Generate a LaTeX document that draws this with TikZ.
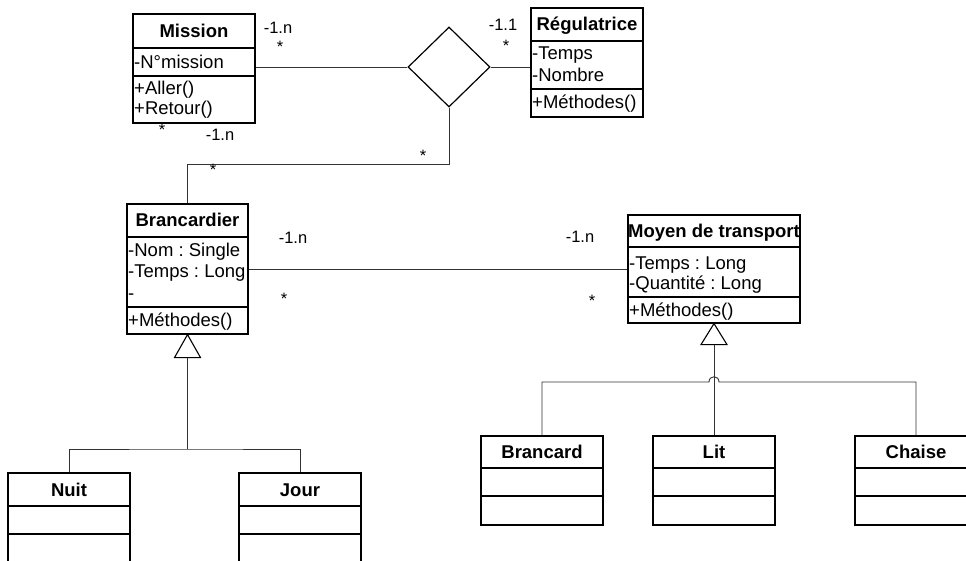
\documentclass[tikz,border=0pt]{standalone}
\usepackage{fontspec}
\setmainfont{Liberation Sans}
\usetikzlibrary{shapes.geometric,fit}
\frenchspacing
\tikzset{
  clsbox/.style={draw=black,line width=1.2pt,inner sep=0pt,fill=white},
  clsline/.style={draw=black,line width=1.2pt},
  clstitle/.style={anchor=base,inner sep=0pt,font=\fontsize{18.5}{22}\selectfont\bfseries},
  attr/.style={anchor=base west,inner sep=0pt,font=\fontsize{18.5}{22}\selectfont},
  mult/.style={anchor=base,inner sep=0pt,font=\fontsize{16.5}{19}\selectfont},
  conn/.style={draw=black!80,line width=0.9pt},
  gentri/.style={draw=black,line width=1.1pt,fill=white},
}
\newcommand\umlcls[8]{%
  \node[clsbox, fit={(#2,#3) (#4,#5)}] (#1) {};
  \draw[clsline] (#2,#6) -- (#4,#6);
  \draw[clsline] (#2,#7) -- (#4,#7);
  \node[clstitle] (#1-t) at ({(#2+#4)/2},{(#3+#6)/2+6.5}) {#8};
}
\begin{document}
\begin{tikzpicture}[x=1pt,y=-1pt]
\useasboundingbox (0,0) rectangle (966,561);
\fill[white] (0,0) rectangle (966,561);
\begin{scope}
\clip (0,0) rectangle (966,561);

% classes
\umlcls{mission}{133}{14}{255}{123}{48}{76}{Mission}
\node[attr] (mission-a1) at (134,68.5) {-N°mission};
\node[attr] (mission-o1) at (134,94.5) {+Aller()};
\node[attr] (mission-o2) at (134,114.5) {+Retour()};

\umlcls{reg}{531}{8}{643}{117}{41}{89}{Régulatrice}
\node[attr] (reg-a1) at (532,59.5) {-Temps};
\node[attr] (reg-a2) at (532,81.5) {-Nombre};
\node[attr] (reg-o1) at (532,108.5) {+Méthodes()};

\umlcls{branc}{127}{204}{248}{334}{237}{307}{Brancardier}
\node[attr] (branc-a1) at (128,256.5) {-Nom : Single};
\node[attr] (branc-a2) at (128,277.5) {-Temps : Long};
\node[attr] (branc-a3) at (128,299.5) {-};
\node[attr] (branc-o1) at (128,326.5) {+Méthodes()};

\umlcls{moyen}{628}{215}{800}{323}{247}{297}{Moyen de transport}
\node[attr] (moyen-a1) at (629,269.5) {-Temps : Long};
\node[attr] (moyen-a2) at (629,289.5) {-Quantité : Long};
\node[attr] (moyen-o1) at (629,316.5) {+Méthodes()};

\umlcls{nuit}{8}{473}{130}{580}{506}{534}{Nuit}
\umlcls{jour}{239}{473}{361}{580}{506}{534}{Jour}
\umlcls{brancard}{481}{436}{603}{525}{468}{496}{Brancard}
\umlcls{lit}{653}{436}{775}{525}{468}{496}{Lit}
\umlcls{chaise}{855}{436}{977}{525}{468}{496}{Chaise}

% association diamond
\node[diamond,draw=black,line width=1.2pt,minimum width=82pt,minimum height=80pt,inner sep=0pt] (dia) at (449,67) {};

% connectors
\draw[conn] (dia.west) -- (mission.east |- dia.west);
\draw[conn] (dia.east) -- (reg.west |- dia.east);
\coordinate (k) at (449,164);
\draw[conn] (dia.south) -- (k) -| (branc.north);
\draw[conn] (branc.east) -- (moyen.west);

% generalisation Brancardier
\draw[gentri] (branc.south) -- ++(13,23) -- ++(-26,0) -- cycle;
\coordinate (g1) at ([yshift=-23pt]branc.south);
\coordinate (gj) at (187.5,449);
\draw[conn] (g1) -- (gj);
\draw[conn] (nuit.north) |- (gj) -| (jour.north);

% generalisation Moyen de transport
\draw[gentri] (moyen.south) -- ++(13,21) -- ++(-26,0) -- cycle;
\coordinate (g2) at ([yshift=-21pt]moyen.south);
\draw[conn] (g2) -- (lit.north);
\coordinate (h1) at (709,382);
\coordinate (h2) at (719,382);
\draw[conn] (brancard.north) |- (h1) .. controls (709,375) and (719,375) .. (h2) -| (chaise.north);

% multiplicities
\node[mult] (m1) at (278,34) {-1.n};
\node[mult] (m2) at (280,53) {*};
\node[mult] (m3) at (162,136) {*};
\node[mult] (m4) at (220,141) {-1.n};
\node[mult] (m5) at (213,176) {*};
\node[mult] (m6) at (423,162) {*};
\node[mult] (m7) at (503,31) {-1.1};
\node[mult] (m8) at (506,52) {*};
\node[mult] (m9) at (293,244) {-1.n};
\node[mult] (m10) at (284,305) {*};
\node[mult] (m11) at (580,243) {-1.n};
\node[mult] (m12) at (592,306) {*};
\end{scope}
\end{tikzpicture}
\end{document}
